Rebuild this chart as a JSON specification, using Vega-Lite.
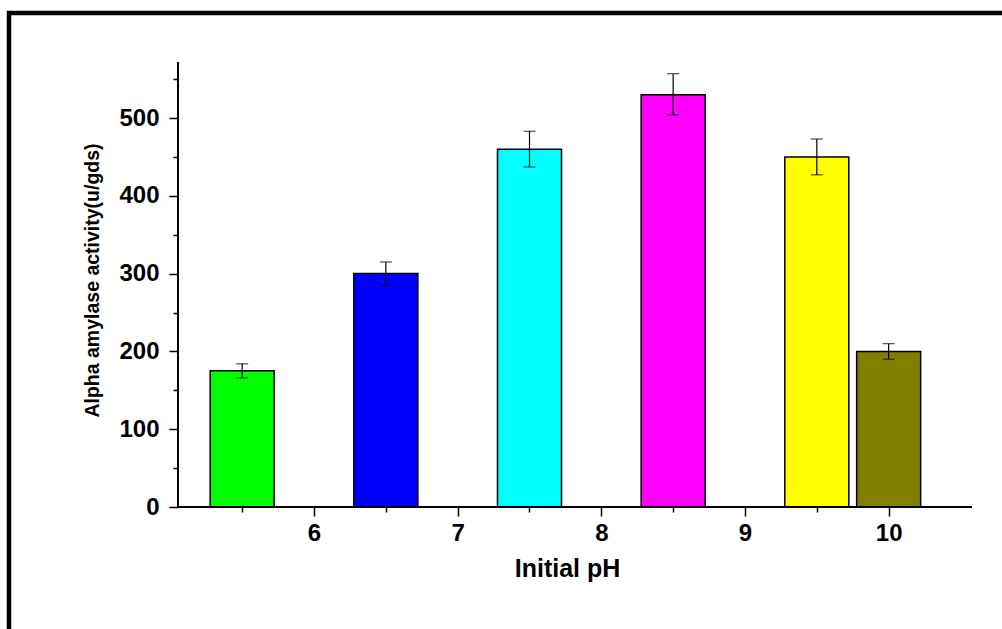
{
  "$schema": "https://vega.github.io/schema/vega-lite/v6.json",
  "width": 993,
  "height": 616,
  "autosize": "none",
  "padding": {"left": 9, "top": 13, "right": 0, "bottom": 0},
  "background": "white",
  "config": {
    "view": {"stroke": "black", "strokeWidth": 4.5, "strokeDash": [993, 1609, 620]},
    "axis": {
      "labelFont": "Liberation Sans",
      "titleFont": "Liberation Sans",
      "labelFontWeight": "bold",
      "titleFontWeight": "bold",
      "labelColor": "black",
      "titleColor": "black",
      "domain": false,
      "tickColor": "black",
      "grid": false,
      "tickWidth": 1.5
    }
  },
  "data": {
    "values": [
      {"pH": "5.5", "position": 5.5, "activity": 175, "low": 166, "high": 184},
      {"pH": "6.5", "position": 6.5, "activity": 300, "low": 285, "high": 315},
      {"pH": "7.5", "position": 7.5, "activity": 460, "low": 437, "high": 483},
      {"pH": "8.5", "position": 8.5, "activity": 530, "low": 504, "high": 557},
      {"pH": "9.5", "position": 9.5, "activity": 450, "low": 427, "high": 473},
      {"pH": "10", "position": 10, "activity": 200, "low": 190, "high": 210}
    ]
  },
  "resolve": {"axis": {"x": "independent", "y": "independent"}},
  "layer": [
    {
      "mark": {"type": "bar", "size": 64, "stroke": "black", "strokeWidth": 1.5},
      "encoding": {
        "x": {
          "field": "position",
          "type": "quantitative",
          "scale": {"domain": [3.877, 10.789], "nice": false, "zero": false, "padding": 0},
          "axis": {"orient": "bottom", "offset": -122, "values": [6, 7, 8, 9, 10], "tickSize": 9, "labelPadding": 5, "labelFontSize": 24, "title": "Initial pH", "titleFontSize": 25, "titleX": 558, "titleY": 69, "titleBaseline": "alphabetic", "titleAlign": "center"}
        },
        "y": {
          "field": "activity",
          "type": "quantitative",
          "scale": {"domain": [-156.8, 635], "nice": false, "zero": false},
          "axis": {"orient": "left", "offset": -169, "values": [0, 100, 200, 300, 400, 500], "tickSize": 9, "labelPadding": 10, "labelFontSize": 24, "title": "Alpha amylase activity(u/gds)", "titleFontSize": 19.5, "titleAngle": 270, "titleX": -80, "titleY": 267, "titleBaseline": "alphabetic", "titleAlign": "center"}
        },
        "y2": {"datum": 0},
        "color": {
          "field": "pH",
          "type": "nominal",
          "scale": {"domain": ["5.5", "6.5", "7.5", "8.5", "9.5", "10"], "range": ["#00FF00", "#0000FF", "#00FFFF", "#FF00FF", "#FFFF00", "#808000"]},
          "legend": null
        }
      }
    },
    {
      "mark": {"type": "rule", "color": "black", "strokeWidth": 1.2},
      "encoding": {
        "x": {
          "field": "position",
          "type": "quantitative",
          "scale": {"domain": [3.877, 10.789], "nice": false, "zero": false, "padding": 0},
          "axis": {"orient": "bottom", "offset": -122, "values": [5.5, 6.5, 7.5, 8.5, 9.5], "tickSize": 5, "labels": false, "title": null}
        },
        "y": {
          "field": "low",
          "type": "quantitative",
          "scale": {"domain": [-156.8, 635], "nice": false, "zero": false},
          "axis": {"orient": "left", "offset": -169, "values": [50, 150, 250, 350, 450, 550], "tickSize": 5, "labels": false, "title": null}
        },
        "y2": {"field": "high"}
      }
    },
    {
      "mark": {"type": "tick", "orient": "horizontal", "color": "black", "size": 12, "thickness": 1.2},
      "encoding": {
        "x": {"field": "position", "type": "quantitative", "axis": null},
        "y": {"field": "low", "type": "quantitative", "axis": null}
      }
    },
    {
      "mark": {"type": "tick", "orient": "horizontal", "color": "black", "size": 12, "thickness": 1.2},
      "encoding": {
        "x": {"field": "position", "type": "quantitative", "axis": null},
        "y": {"field": "high", "type": "quantitative", "axis": null}
      }
    },
    {
      "mark": {"type": "rule", "color": "black", "strokeWidth": 1.5},
      "encoding": {
        "x": {"datum": 5.054, "type": "quantitative", "axis": null},
        "x2": {"datum": 10.58},
        "y": {"datum": 0, "type": "quantitative", "axis": null}
      }
    },
    {
      "mark": {"type": "rule", "color": "black", "strokeWidth": 1.5},
      "encoding": {
        "x": {"datum": 5.054, "type": "quantitative", "axis": null},
        "y": {"datum": 0, "type": "quantitative", "axis": null},
        "y2": {"datum": 572}
      }
    }
  ]
}
